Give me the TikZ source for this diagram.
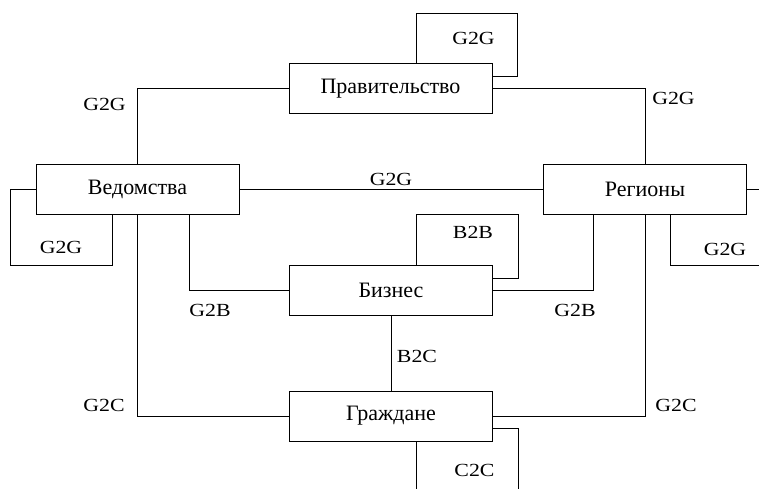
\documentclass[tikz,border=0pt]{standalone}
\usepackage{fontspec}
\setmainfont{Liberation Serif}
\newfontfamily\lblfont{Liberation Serif}[FakeStretch=1.18]
\usepackage{tikz}
\usetikzlibrary{calc}
\tikzset{
	blok/.style={draw,line width=.75pt,minimum width=203pt,minimum height=50pt,inner sep=0pt,font=\fontsize{22}{24}\selectfont},
	lbl/.style={inner sep=0pt,font=\lblfont\fontsize{18.5}{20}\selectfont},
	svyaz/.style={line width=.75pt}
}
\begin{document}
\begin{tikzpicture}[x=1pt,y=-1pt]
			\clip (0,0) rectangle (759,488);
			\node[blok] (prav) at (390.5,88.5){Правительство};
			\node[blok] (ved) at (137.5,189){Ведомства};
			\node[blok] (reg) at (645,189){Регионы};
			\node[blok] (biz) at (391,290){Бизнес};
			\node[blok] (grazh) at (391,416){Граждане};
			\draw[svyaz] (prav.west) -| (ved.north);
			\draw[svyaz] (prav.east) -| (reg.north);
			\draw[svyaz] (ved.east) -- (reg.west);
			\draw[svyaz] ([xshift=51.5pt]ved.south) |- (biz.west);
			\draw[svyaz] ([xshift=-52pt]reg.south) |- (biz.east);
			\draw[svyaz] (ved.south) |- (grazh.west);
			\draw[svyaz] (reg.south) |- (grazh.east);
			\draw[svyaz] (biz.south) -- (grazh.north);
			\draw[svyaz] ([xshift=25.5pt]prav.north) -- ++(0,-50) -| ([xshift=25pt,yshift=12.5pt]prav.east) -- ([yshift=12.5pt]prav.east);
			\draw[svyaz] ([xshift=25.5pt]biz.north) -- ++(0,-50) -| ([xshift=25pt,yshift=12pt]biz.east) -- ([yshift=12pt]biz.east);
			\draw[svyaz] (ved.west) -| ([xshift=-25pt,yshift=-51pt]ved.south west) -| ([xshift=-25.5pt]ved.south);
			\draw[svyaz] (reg.east) -| ([xshift=25pt,yshift=-51pt]reg.south east) -| ([xshift=25pt]reg.south);
			\draw[svyaz] ([yshift=-12.5pt]grazh.east) -| ([xshift=25pt,yshift=-50pt]grazh.south east) -| ([xshift=25pt]grazh.south);
			\node[lbl] (l1) at (104.5,104){G2G};
			\node[lbl] (l2) at (673.5,98){G2G};
			\node[lbl] (l3) at (391,179){G2G};
			\node[lbl] (l4) at (473.5,38){G2G};
			\node[lbl] (l5) at (61,247){G2G};
			\node[lbl] (l6) at (725,249){G2G};
			\node[lbl] (l7) at (473,232){B2B};
			\node[lbl] (l8) at (210,310){G2B};
			\node[lbl] (l9) at (575,310){G2B};
			\node[lbl] (l10) at (417,356){B2C};
			\node[lbl] (l11) at (104,405){G2C};
			\node[lbl] (l12) at (676,405){G2C};
			\node[lbl] (l13) at (474.5,470){C2C};
\end{tikzpicture}
\end{document}
